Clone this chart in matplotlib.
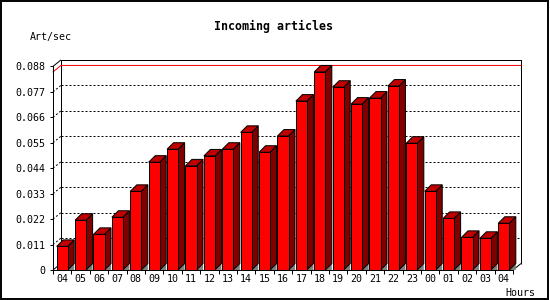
"""Incoming articles per hour, drawn as a 3D bar chart."""

import matplotlib

matplotlib.use("Agg")
import matplotlib.pyplot as plt
from matplotlib.patches import Polygon, Rectangle

hours = ["04", "05", "06", "07", "08", "09", "10", "11", "12", "13", "14", "15",
         "16", "17", "18", "19", "20", "21", "22", "23", "00", "01", "02", "03", "04"]
rates = [0.0102, 0.0215, 0.0154, 0.0228, 0.0340, 0.0466, 0.0522, 0.0450, 0.0493,
         0.0522, 0.0595, 0.0509, 0.0579, 0.0730, 0.0856, 0.0790, 0.0717, 0.0743,
         0.0795, 0.0548, 0.0340, 0.0223, 0.0141, 0.0137, 0.0202]
y_ticks = [0, 0.011, 0.022, 0.033, 0.044, 0.055, 0.066, 0.077, 0.088]
y_tick_labels = ["0", "0.011", "0.022", "0.033", "0.044", "0.055", "0.066", "0.077", "0.088"]

FRONT = "#ff0000"
TOP = "#c00000"
SIDE = "#800000"
SHADOW = "#808080"
LW = 0.72  # one pixel at 100 dpi
FONT = "DejaVu Sans Mono"

W, H = 550, 300
fig = plt.figure(figsize=(W / 100, H / 100), dpi=100)

# front face of the plot box, in pixels
left, right, top, bottom = 53, 513, 66.4, 270
ax = fig.add_axes([left / W, (H - bottom) / H, (right - left) / W, (bottom - top) / H])
xmin, xmax = -0.5, len(hours) - 0.5
ymin, ymax = 0, y_ticks[-1]
ax.set_xlim(xmin, xmax)
ax.set_ylim(ymin, ymax)

px_x = (xmax - xmin) / (right - left)
px_y = (ymax - ymin) / (bottom - top)
# depth of the back wall and of the bars
fdx, fdy = 8 * px_x, 6.5 * px_y
bdx, bdy = 6.5 * px_x, 6.5 * px_y
bar_w = 0.6

line_kw = dict(color="black", lw=LW, clip_on=False, solid_capstyle="butt")
dash_kw = dict(color="black", lw=LW, clip_on=False, linestyle=(0, (2, 2)))

# back wall frame
ax.plot([xmin + fdx, xmin + fdx, xmax + fdx, xmax + fdx],
        [ymin + fdy, ymax + fdy, ymax + fdy, ymin + fdy], zorder=1, **line_kw)
ax.plot([xmin, xmin + fdx], [ymax, ymax + fdy], zorder=1, **line_kw)
ax.plot([xmin, xmin + fdx], [ymin, ymin + fdy], zorder=1, **line_kw)
ax.plot([xmax, xmax + fdx], [ymin, ymin + fdy], zorder=1, **line_kw)

# grid lines on the back wall and the left wall
for yv in y_ticks[1:-1]:
    ax.plot([xmin + fdx, xmax + fdx], [yv + fdy, yv + fdy], zorder=1, **dash_kw)
    ax.plot([xmin, xmin + fdx], [yv, yv + fdy], zorder=1, **dash_kw)

# maximum line
peak = max(rates)
ax.plot([xmin, xmin + fdx, xmax + fdx], [peak, peak + fdy, peak + fdy],
        color=FRONT, lw=LW, clip_on=False, zorder=1.5)

# bars: shadow, side, top, then the front through ax.bar
for i, v in enumerate(rates):
    r = i + bar_w / 2
    l = i - bar_w / 2
    ax.add_patch(Polygon([(r, 0), (r + bdx, bdy), (r + bdx, 0)], closed=True,
                         facecolor=SHADOW, edgecolor="none", zorder=2, clip_on=False))
    ax.add_patch(Polygon([(r, 0), (r + bdx, bdy), (r + bdx, v + bdy), (r, v)], closed=True,
                         facecolor=SIDE, edgecolor="black", lw=LW, zorder=2, clip_on=False))
    ax.add_patch(Polygon([(l, v), (l + bdx, v + bdy), (r + bdx, v + bdy), (r, v)], closed=True,
                         facecolor=TOP, edgecolor="black", lw=LW, zorder=2, clip_on=False))
ax.bar(range(len(hours)), rates, width=bar_w, color=FRONT, edgecolor="black",
       lw=LW, zorder=3, clip_on=False)

# front axes
for side in ["top", "right"]:
    ax.spines[side].set_visible(False)
for side in ["left", "bottom"]:
    ax.spines[side].set_linewidth(LW)
    ax.spines[side].set_zorder(4)
ax.set_yticks(y_ticks)
ax.set_yticklabels(y_tick_labels, fontfamily=FONT, fontsize=7.2)
ax.set_xticks(range(len(hours)))
ax.set_xticklabels(hours, fontfamily=FONT, fontsize=7.2)
ax.set_xticks([i - 0.5 for i in range(len(hours) + 1)], minor=True)
ax.tick_params(axis="y", length=2.2, width=LW, pad=3.6)
ax.tick_params(axis="x", which="major", length=0, pad=3)
ax.tick_params(axis="x", which="minor", length=2.6, width=LW)
ax.patch.set_visible(False)

fig.text(273.5 / W, 1 - 26.7 / H, "Incoming articles", ha="center", va="center",
         fontfamily=FONT, fontweight="bold", fontsize=8.4)
fig.text(30 / W, 1 - 36.7 / H, "Art/sec", ha="left", va="center",
         fontfamily=FONT, fontsize=7.2)
fig.text(505 / W, 1 - 292.7 / H, "Hours", ha="left", va="center",
         fontfamily=FONT, fontsize=7.2)

# image border
fig.patches.append(Rectangle((0.5 / W, 1 / H), 547.5 / W, 298 / H, transform=fig.transFigure,
                             fill=False, edgecolor="black", lw=1.4))

fig.savefig("out.png", dpi=100)
plt.close(fig)
